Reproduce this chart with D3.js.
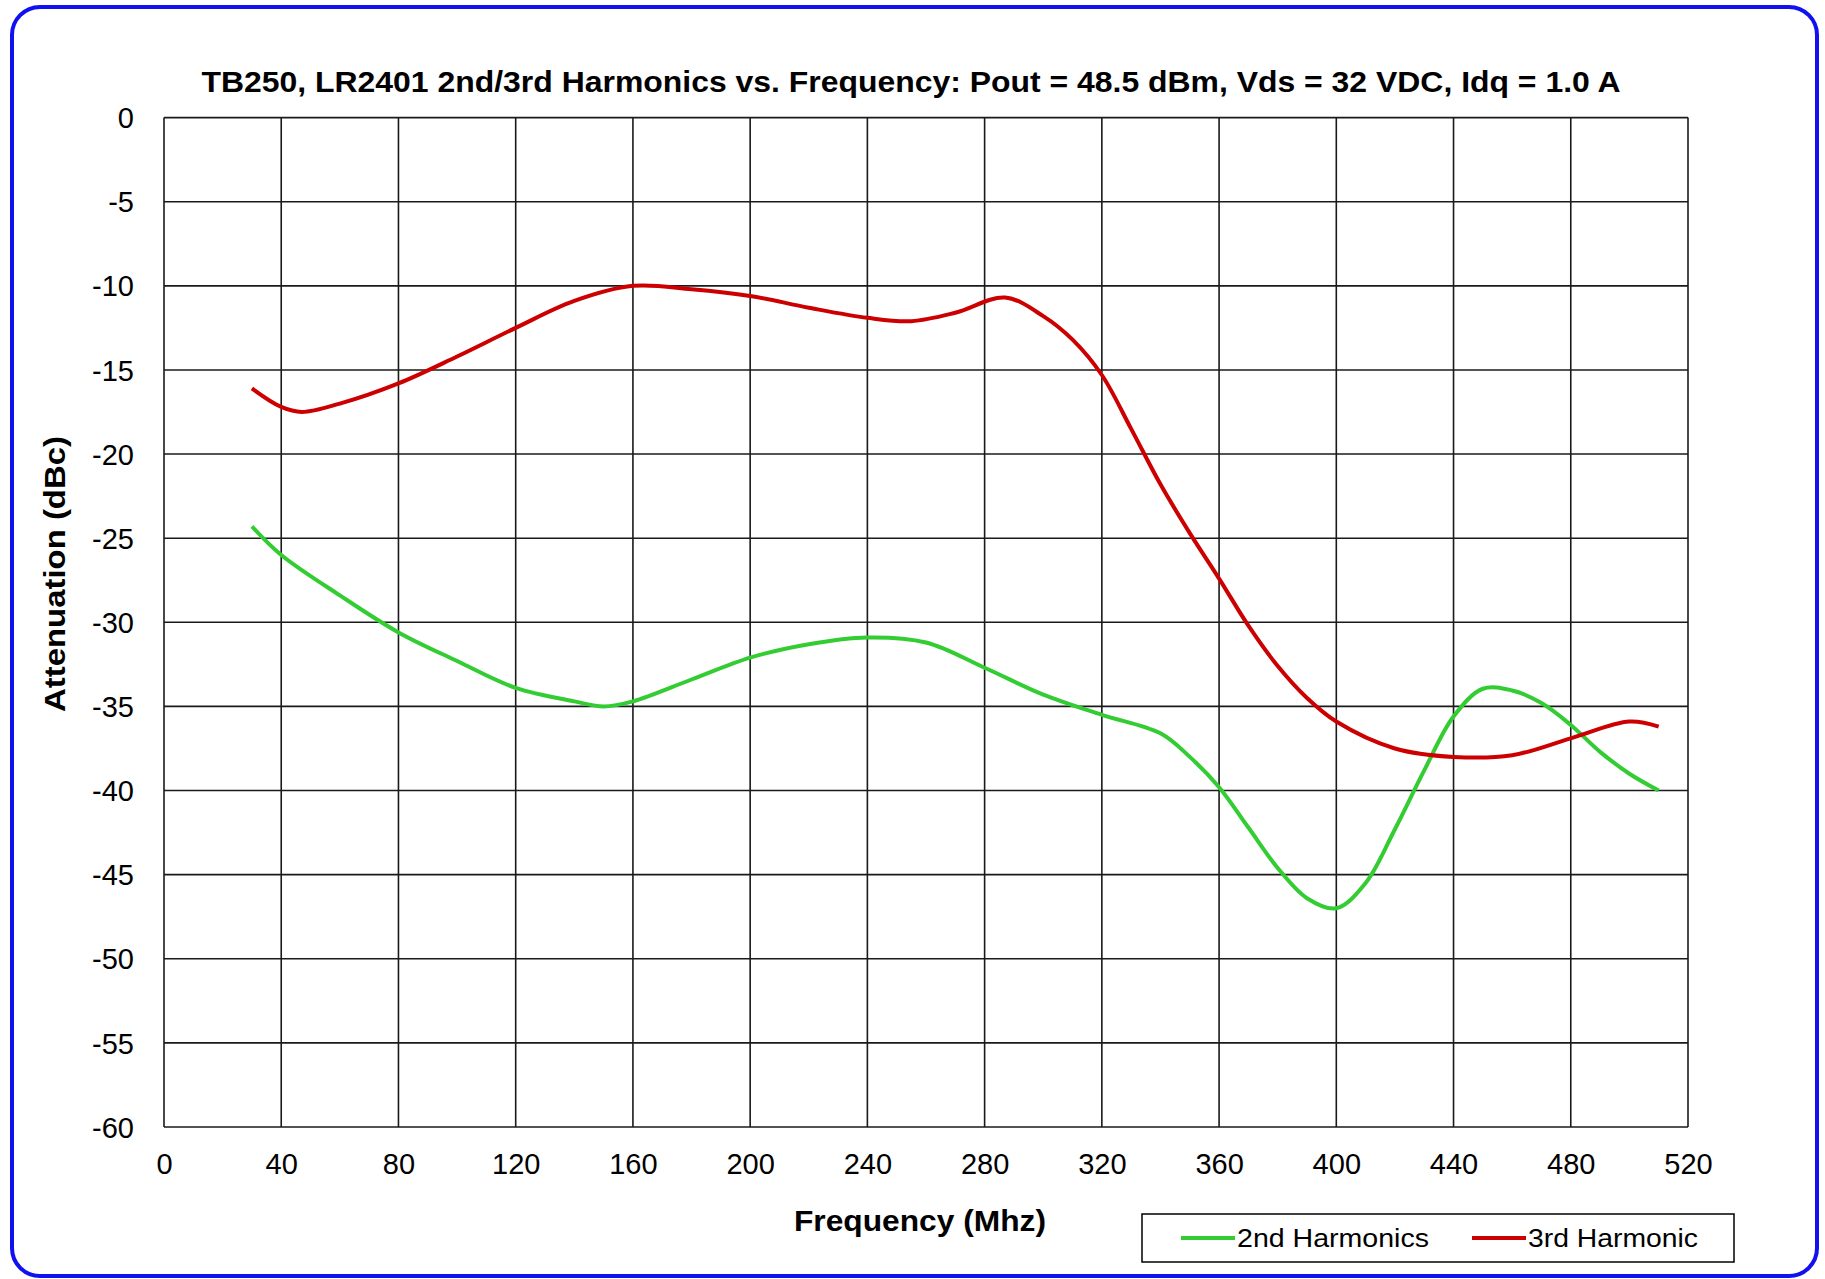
<!DOCTYPE html>
<html>
<head>
<meta charset="utf-8">
<script src="https://cdn.jsdelivr.net/npm/d3@7"></script>
<style>
  body { margin: 0; background: #fff; }
  svg text { font-family: "Liberation Sans", Arial, sans-serif; fill: #000; }
</style>
</head>
<body>
<div id="chart"></div>
<script>
// Data
var titleText = "TB250, LR2401  2nd/3rd Harmonics vs. Frequency: Pout = 48.5 dBm, Vds = 32 VDC, Idq = 1.0 A";
var xTicks = [0, 40, 80, 120, 160, 200, 240, 280, 320, 360, 400, 440, 480, 520];
var yTicks = [0, -5, -10, -15, -20, -25, -30, -35, -40, -45, -50, -55, -60];

var freq2nd = [30, 40, 60, 80, 100, 120, 140, 150, 160, 180, 200, 220, 240, 260, 280, 300, 320, 340, 350, 360, 370, 380, 390, 400, 410, 420, 430, 440, 450, 460, 470, 480, 490, 500, 510];
var atten2nd = [-24.3, -26.0, -28.4, -30.6, -32.3, -33.9, -34.7, -35.0, -34.7, -33.4, -32.1, -31.3, -30.9, -31.2, -32.7, -34.3, -35.5, -36.6, -38.0, -39.8, -42.2, -44.6, -46.4, -47.0, -45.5, -42.3, -38.8, -35.6, -33.95, -34.05, -34.8, -36.1, -37.7, -39.0, -40.0];

var freq3rd = [30, 40, 47, 60, 80, 100, 120, 140, 160, 180, 200, 220, 240, 255, 270, 287, 300, 310, 320, 330, 340, 350, 360, 370, 380, 390, 400, 420, 440, 460, 480, 500, 510];
var atten3rd = [-16.1, -17.2, -17.5, -17.0, -15.8, -14.2, -12.5, -10.9, -10.0, -10.2, -10.6, -11.3, -11.9, -12.1, -11.6, -10.7, -11.8, -13.2, -15.3, -18.5, -21.8, -24.7, -27.4, -30.2, -32.6, -34.5, -35.9, -37.5, -38.0, -37.9, -36.9, -35.9, -36.2];

var seriesNames = ["2nd Harmonics", "3rd Harmonic"];
var seriesColors = ["#33cc33", "#cc0000"];

var svgWidth = 1825;
var svgHeight = 1279;

var plot = { left: 164, right: 1688, top: 117.6, bottom: 1127 };

var svg = d3.select("#chart")
  .append("svg")
  .attr("width", svgWidth)
  .attr("height", svgHeight);

// outer rounded frame
svg.append("rect")
  .attr("x", 12)
  .attr("y", 7)
  .attr("width", 1805)
  .attr("height", 1269)
  .attr("rx", 28)
  .attr("fill", "#fff")
  .attr("stroke", "#1010f0")
  .attr("stroke-width", 4);

var xScale = d3.scaleLinear().domain([0, 520]).range([plot.left, plot.right]);
var yScale = d3.scaleLinear().domain([-60, 0]).range([plot.bottom, plot.top]);

// gridlines
var grid = svg.append("g");
grid.selectAll("line.v")
  .data(xTicks)
  .enter()
  .append("line")
  .attr("x1", d => xScale(d))
  .attr("x2", d => xScale(d))
  .attr("y1", plot.top)
  .attr("y2", plot.bottom)
  .attr("stroke", "#1a1a1a")
  .attr("stroke-width", 1.6);

grid.selectAll("line.h")
  .data(yTicks)
  .enter()
  .append("line")
  .attr("x1", plot.left)
  .attr("x2", plot.right)
  .attr("y1", d => yScale(d))
  .attr("y2", d => yScale(d))
  .attr("stroke", "#1a1a1a")
  .attr("stroke-width", 1.6);

// axes (labels only, the grid draws the lines)
var bottomAxis = d3.axisBottom(xScale).tickValues(xTicks).tickSize(0).tickPadding(0)
  .tickFormat(d => String(d));
var leftAxis = d3.axisLeft(yScale).tickValues(yTicks).tickSize(0).tickPadding(0)
  .tickFormat(d => String(d));

var xAxisG = svg.append("g")
  .attr("transform", `translate(0, ${plot.bottom + 37})`)
  .call(bottomAxis);
xAxisG.select(".domain").remove();
xAxisG.selectAll("text")
  .attr("font-size", "29px")
  .attr("dy", "0.35em")
  .attr("y", 0);

var yAxisG = svg.append("g")
  .attr("transform", `translate(${plot.left - 30}, 0)`)
  .call(leftAxis);
yAxisG.select(".domain").remove();
yAxisG.selectAll("text")
  .attr("font-size", "29px")
  .attr("x", 0)
  .attr("dy", "0.35em");

// series lines
var line = d3.line()
  .x(d => xScale(d[0]))
  .y(d => yScale(d[1]))
  .curve(d3.curveCatmullRom.alpha(0.5));

var series = [
  d3.zip(freq2nd, atten2nd),
  d3.zip(freq3rd, atten3rd)
];

svg.append("g").selectAll("path")
  .data(series)
  .enter()
  .append("path")
  .attr("d", d => line(d))
  .attr("fill", "none")
  .attr("stroke", (d, i) => seriesColors[i])
  .attr("stroke-width", 4)
  .attr("stroke-linejoin", "round");

// title
svg.append("text")
  .attr("x", 911)
  .attr("y", 92)
  .attr("text-anchor", "middle")
  .attr("font-size", "29px")
  .attr("font-weight", "bold")
  .attr("textLength", 1419)
  .attr("lengthAdjust", "spacingAndGlyphs")
  .text(titleText);

// axis titles
svg.append("text")
  .attr("x", 920)
  .attr("y", 1231)
  .attr("text-anchor", "middle")
  .attr("font-size", "29px")
  .attr("font-weight", "bold")
  .attr("textLength", 252)
  .attr("lengthAdjust", "spacingAndGlyphs")
  .text("Frequency (Mhz)");

svg.append("text")
  .attr("transform", "translate(65, 574) rotate(-90)")
  .attr("text-anchor", "middle")
  .attr("font-size", "29px")
  .attr("font-weight", "bold")
  .attr("textLength", 276)
  .attr("lengthAdjust", "spacingAndGlyphs")
  .text("Attenuation  (dBc)");

// legend
var legend = svg.append("g");
legend.append("rect")
  .attr("x", 1142)
  .attr("y", 1214)
  .attr("width", 592)
  .attr("height", 48)
  .attr("fill", "#fff")
  .attr("stroke", "#000")
  .attr("stroke-width", 1.5);

var legendX = [1181, 1472];
var legendTextLen = [192, 170];
seriesNames.forEach(function(name, i) {
  legend.append("line")
    .attr("x1", legendX[i])
    .attr("x2", legendX[i] + 54)
    .attr("y1", 1238)
    .attr("y2", 1238)
    .attr("stroke", seriesColors[i])
    .attr("stroke-width", 4);
  legend.append("text")
    .attr("x", legendX[i] + 56)
    .attr("y", 1238)
    .attr("dy", "0.35em")
    .attr("font-size", "26px")
    .attr("textLength", legendTextLen[i])
    .attr("lengthAdjust", "spacingAndGlyphs")
    .text(name);
});
</script>
</body>
</html>
